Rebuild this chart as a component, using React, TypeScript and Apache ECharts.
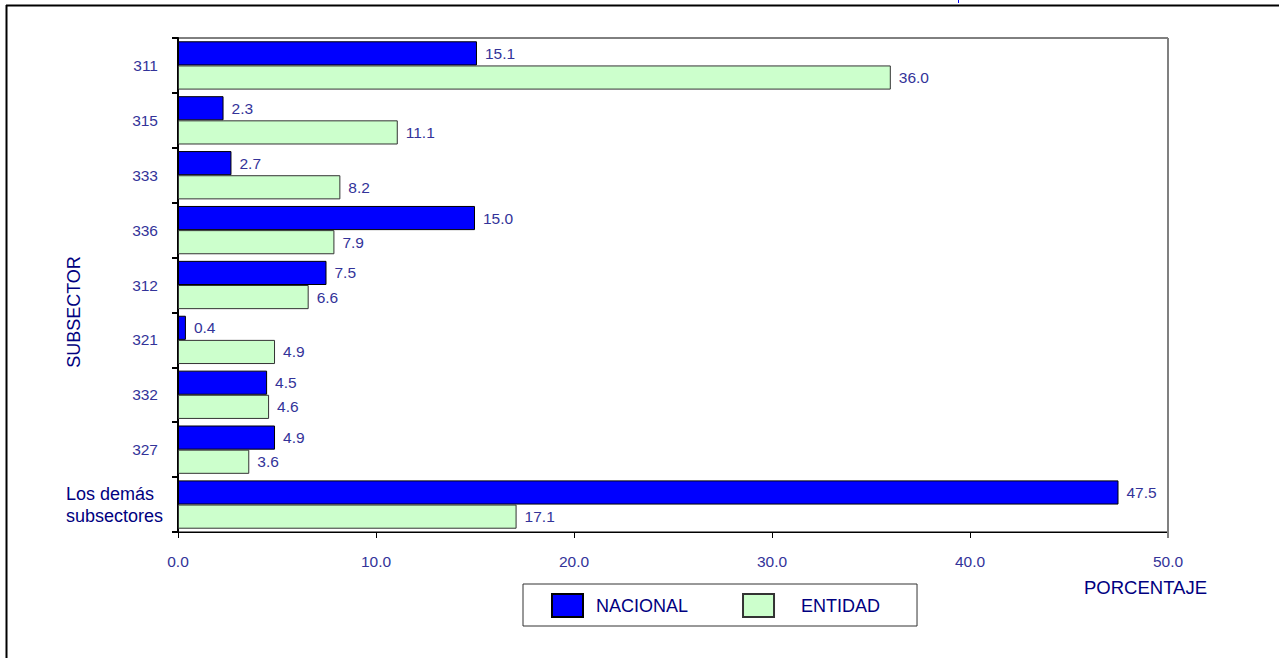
import React, { useEffect, useRef } from "react";
import * as echarts from "echarts";

const categories = ["311", "315", "333", "336", "312", "321", "332", "327", "Los demás subsectores"];
const nacional = [15.1, 2.3, 2.7, 15.0, 7.5, 0.4, 4.5, 4.9, 47.5];
const entidad = [36.0, 11.1, 8.2, 7.9, 6.6, 4.9, 4.6, 3.6, 17.1];
const seriesNames = ["NACIONAL", "ENTIDAD"];
const xAxisName = "PORCENTAJE";
const yAxisName = "SUBSECTOR";

const NARROW = '"Liberation Sans Narrow", "Arial Narrow", "Liberation Sans", Arial, sans-serif';
const NUM_SIZE = 15.5;
const ARIAL = '"Liberation Sans", Arial, sans-serif';
const LABEL = "#333399";
const NAVY = "#000080";

export default function App() {
  const ref = useRef<HTMLDivElement>(null);
  useEffect(() => {
    if (!ref.current) return;
    const chart = echarts.init(ref.current, null, { renderer: "svg" });
    const gridLeft = 178, gridTop = 38, gridW = 990, gridH = 494;
    chart.setOption({
      animation: false,
      backgroundColor: "#ffffff",
      grid: {
        left: gridLeft, top: gridTop, width: gridW, height: gridH,
        show: true, borderColor: "#000", borderWidth: 1, backgroundColor: "transparent",
      },
      legend: {
        left: 523, top: 584,
        orient: "horizontal",
        padding: [9, 37, 8, 28],
        borderColor: "#333", borderWidth: 1,
        itemWidth: 31, itemHeight: 23, itemGap: 54,
        icon: "rect",
        textStyle: { color: NAVY, fontFamily: ARIAL, fontSize: 18 },
        data: [
          { name: seriesNames[0], textStyle: { padding: [0, 0, 0, 8] } },
          { name: seriesNames[1], textStyle: { padding: [0, 0, 0, 22] } },
        ],
      },
      xAxis: {
        type: "value", min: 0, max: 50, interval: 10,
        axisLine: { show: true, lineStyle: { color: "#000", width: 1 } },
        axisTick: { show: true, length: 6, lineStyle: { color: "#000", width: 1 } },
        splitLine: { show: false },
        axisLabel: {
          formatter: (v: number) => v.toFixed(1),
          color: LABEL, fontFamily: NARROW, fontSize: NUM_SIZE, margin: 21,
        },
      },
      yAxis: {
        type: "category", inverse: true, data: categories,
        name: yAxisName, nameLocation: "middle", nameRotate: 90, nameGap: 95,
        nameMoveOverlap: false,
        nameTextStyle: { color: NAVY, fontFamily: ARIAL, fontSize: 18, padding: [0, 54, 0, 0] },
        axisLine: { show: true, lineStyle: { color: "#000", width: 2 } },
        axisTick: { show: true, length: 6, alignWithLabel: false, lineStyle: { color: "#000", width: 2 } },
        splitLine: { show: false },
        axisLabel: {
          color: LABEL, fontFamily: NARROW, fontSize: NUM_SIZE, margin: 20,
          formatter: (v: string) => {
            if (v.indexOf(" ") >= 0) {
              const parts = v.split(" ");
              return "{a|" + parts.slice(0, 2).join(" ") + "}\n{a|" + parts.slice(2).join(" ") + "}";
            }
            return v;
          },
          rich: {
            a: { color: NAVY, fontFamily: ARIAL, fontSize: 18, lineHeight: 22, align: "left", padding: [0, -5, 0, 0] },
          },
        },
      },
      series: [
        {
          name: seriesNames[0], type: "bar", data: nacional,
          barGap: "0%", barCategoryGap: "12%",
          itemStyle: { color: "#0000FF", borderColor: "#000", borderWidth: 1 },
          label: {
            show: true, position: "right", distance: 8, color: LABEL,
            fontFamily: NARROW, fontSize: NUM_SIZE,
            formatter: (p: any) => Number(p.value).toFixed(1),
          },
        },
        {
          name: seriesNames[1], type: "bar", data: entidad,
          barGap: "0%", barCategoryGap: "12%",
          itemStyle: { color: "#CCFFCC", borderColor: "#333", borderWidth: 1 },
          label: {
            show: true, position: "right", distance: 8, color: LABEL,
            fontFamily: NARROW, fontSize: NUM_SIZE,
            formatter: (p: any) => Number(p.value).toFixed(1),
          },
        },
      ],
      graphic: [
        { type: "line", shape: { x1: 6, y1: 5.5, x2: 1279, y2: 5.5 }, style: { stroke: "#000", lineWidth: 2 } },
        { type: "line", shape: { x1: 6.5, y1: 5, x2: 6.5, y2: 658 }, style: { stroke: "#000", lineWidth: 2 } },
        { type: "line", shape: { x1: 958.5, y1: 0, x2: 958.5, y2: 3 }, style: { stroke: "#0000FF", lineWidth: 1 } },
        {
          type: "line",
          shape: { x1: gridLeft + gridW, y1: gridTop, x2: gridLeft + gridW, y2: gridTop + gridH + 6 },
          style: { stroke: "#808080", lineWidth: 2 }, z: 10,
        },
        {
          type: "text", left: 1084, top: 578,
          style: { text: xAxisName, fill: NAVY, font: '18.5px "Liberation Sans", Arial, sans-serif' },
        },
      ],
    });
    return () => chart.dispose();
  }, []);
  return (
    <div
      ref={ref}
      style={{ position: "absolute", left: 0, top: 0, width: 1279, height: 658 }}
    />
  );
}
